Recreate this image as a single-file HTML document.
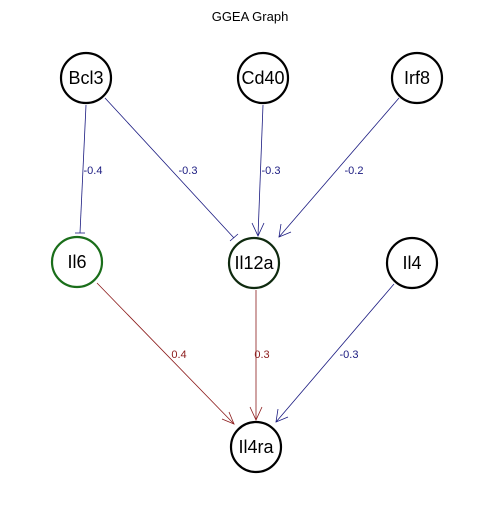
<!DOCTYPE html>
<html><head><style>body{margin:0;background:#fff}</style></head><body>
<svg width="500" height="500" viewBox="0 0 500 500" xmlns="http://www.w3.org/2000/svg" font-family="Liberation Sans, sans-serif">
<rect width="500" height="500" fill="#fff"/>
<text x="250" y="21" font-size="13" text-anchor="middle">GGEA Graph</text>
<g stroke-width="0.8" fill="none">
<line x1="86" y1="105" x2="80" y2="233" stroke="#1a1a80"/>
<line x1="75" y1="233" x2="85" y2="233" stroke="#1a1a80"/>
<line x1="105" y1="98" x2="234" y2="238" stroke="#1a1a80"/>
<line x1="230" y1="241" x2="238" y2="234" stroke="#1a1a80"/>
<line x1="263" y1="105" x2="258" y2="236" stroke="#1a1a80"/>
<polyline points="252,223 258,236 264,223" stroke="#1a1a80"/>
<line x1="399" y1="98" x2="279" y2="237" stroke="#1a1a80"/>
<polyline points="281,224 279,237 291,232" stroke="#1a1a80"/>
<line x1="97" y1="283" x2="234" y2="424" stroke="#8b1a1a"/>
<polyline points="222,419 234,424 229,412" stroke="#8b1a1a"/>
<line x1="256" y1="290" x2="256" y2="420" stroke="#8b1a1a"/>
<polyline points="250,407 256,420 262,407" stroke="#8b1a1a"/>
<line x1="394" y1="284" x2="276" y2="422" stroke="#1a1a80"/>
<polyline points="278,409 276,422 288,417" stroke="#1a1a80"/>
</g>
<g font-size="11" text-anchor="middle">
<text x="93" y="174" fill="#1a1a80">-0.4</text>
<text x="188" y="174" fill="#1a1a80">-0.3</text>
<text x="271" y="174" fill="#1a1a80">-0.3</text>
<text x="354" y="174" fill="#1a1a80">-0.2</text>
<text x="179" y="358" fill="#8b1a1a">0.4</text>
<text x="262" y="358" fill="#8b1a1a">0.3</text>
<text x="349" y="358" fill="#1a1a80">-0.3</text>
</g>
<g stroke-width="2.2" fill="#fff" stroke="#000">
<circle cx="86" cy="78" r="25"/>
<circle cx="263" cy="78" r="25"/>
<circle cx="417" cy="78" r="25"/>
<circle cx="77" cy="262" r="25" stroke="#1a6e1a"/>
<circle cx="254" cy="263" r="25" stroke="#0f2a0f"/>
<circle cx="412" cy="263" r="25"/>
<circle cx="256" cy="447" r="25"/>
</g>
<g font-size="18" text-anchor="middle">
<text x="86" y="84">Bcl3</text>
<text x="263" y="84">Cd40</text>
<text x="417" y="84">Irf8</text>
<text x="77" y="268">Il6</text>
<text x="254" y="269">Il12a</text>
<text x="412" y="269">Il4</text>
<text x="256" y="453">Il4ra</text>
</g>
</svg>
</body></html>
